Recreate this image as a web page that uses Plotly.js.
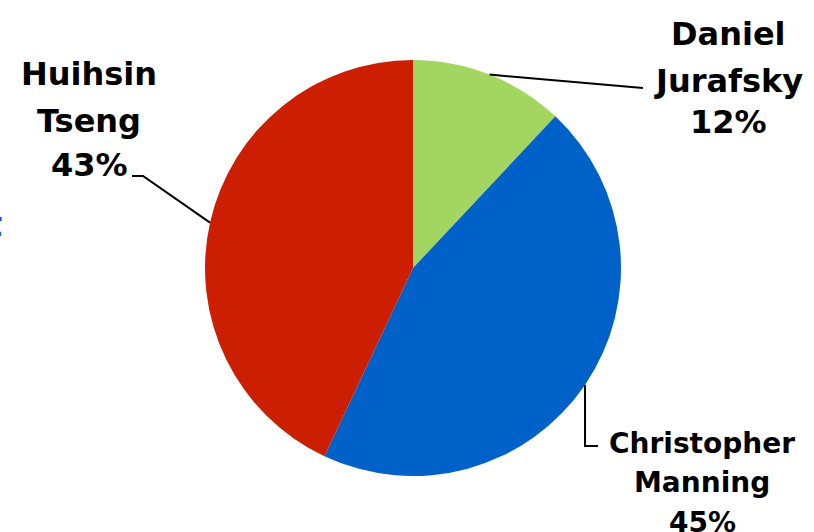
<!DOCTYPE html>
<html>
<head>
<meta charset="utf-8">
<script src="https://cdn.plot.ly/plotly-3.0.1.min.js"></script>
<style>html,body{margin:0;padding:0;background:#fff;}#chart{width:814px;height:532px;}</style>
</head>
<body>
<div id="chart"></div>
<script>
// ---- data ----
var names = ["Daniel Jurafsky", "Christopher Manning", "Huihsin Tseng"];
var shares = [12, 45, 43];
var colors = ["#a3d661", "#0062c8", "#cc1e00"];

// ---- layout geometry (pixels) ----
var W = 814, H = 532;
var CX = 413, CY = 268, R = 208;
function px(x, y) { return [x / W, 1 - y / H]; }

// slice mid-angles (clockwise from 12 o'clock) computed from data
var total = shares.reduce(function (a, b) { return a + b; }, 0);
var acc = 0, anchors = [];
shares.forEach(function (v) {
  var mid = (acc + v / 2) / total * 2 * Math.PI;
  anchors.push([CX + R * Math.sin(mid), CY - R * Math.cos(mid)]);
  acc += v;
});

// label placement: [center x, line mid y's, font size], and elbow paths
var labelPos = [
  {x: 728, ys: [34, 81, 122], fs: 32, path: function (a) { return [a, [643, 88]]; }},
  {x: 702, ys: [443, 482, 522], fs: 28, path: function (a) { return [a, [a[0], 446], [598, 446]]; }},
  {x: 89, ys: [74, 121, 165], fs: 32, path: function (a) { return [a, [143, 176], [132, 176]]; }}
];

var annotations = [], shapes = [];
names.forEach(function (n, i) {
  var parts = n.split(" ");
  var lines = [parts[0], parts.slice(1).join(" "), shares[i] + "%"];
  var lp = labelPos[i];
  lines.forEach(function (t, k) {
    var p = px(lp.x, lp.ys[k]);
    annotations.push({
      text: "<b>" + t + "</b>", xref: "paper", yref: "paper", x: p[0], y: p[1],
      xanchor: "center", yanchor: "middle", showarrow: false,
      font: {family: "DejaVu Sans", size: lp.fs, color: "#000"}
    });
  });
  var pts = lp.path(anchors[i]);
  var d = pts.map(function (q, k) {
    var pp = px(q[0], q[1]);
    return (k ? "L" : "M") + pp[0] + "," + pp[1];
  }).join(" ");
  shapes.push({type: "path", xref: "paper", yref: "paper", path: d,
    line: {color: "#000", width: 2}});
});

// small cropped blue glyph at the left edge
var g = px(4, 224);
annotations.push({text: "<b>t</b>", xref: "paper", yref: "paper", x: g[0], y: g[1],
  xanchor: "right", yanchor: "middle", showarrow: false,
  font: {family: "DejaVu Sans", size: 34, color: "#1a55cc"}});

var d0 = px(CX - R, CY + R), d1 = px(CX + R, CY - R);
var trace = {
  type: "pie", labels: names, values: shares, sort: false,
  direction: "clockwise", rotation: 0,
  marker: {colors: colors, line: {width: 0}},
  textinfo: "none", hoverinfo: "label+percent",
  domain: {x: [d0[0], d1[0]], y: [d0[1], d1[1]]}
};

Plotly.newPlot("chart", [trace], {
  width: W, height: H, margin: {l: 0, r: 0, t: 0, b: 0},
  showlegend: false, paper_bgcolor: "#fff",
  annotations: annotations, shapes: shapes
}, {displayModeBar: false, staticPlot: true});
</script>
</body>
</html>
